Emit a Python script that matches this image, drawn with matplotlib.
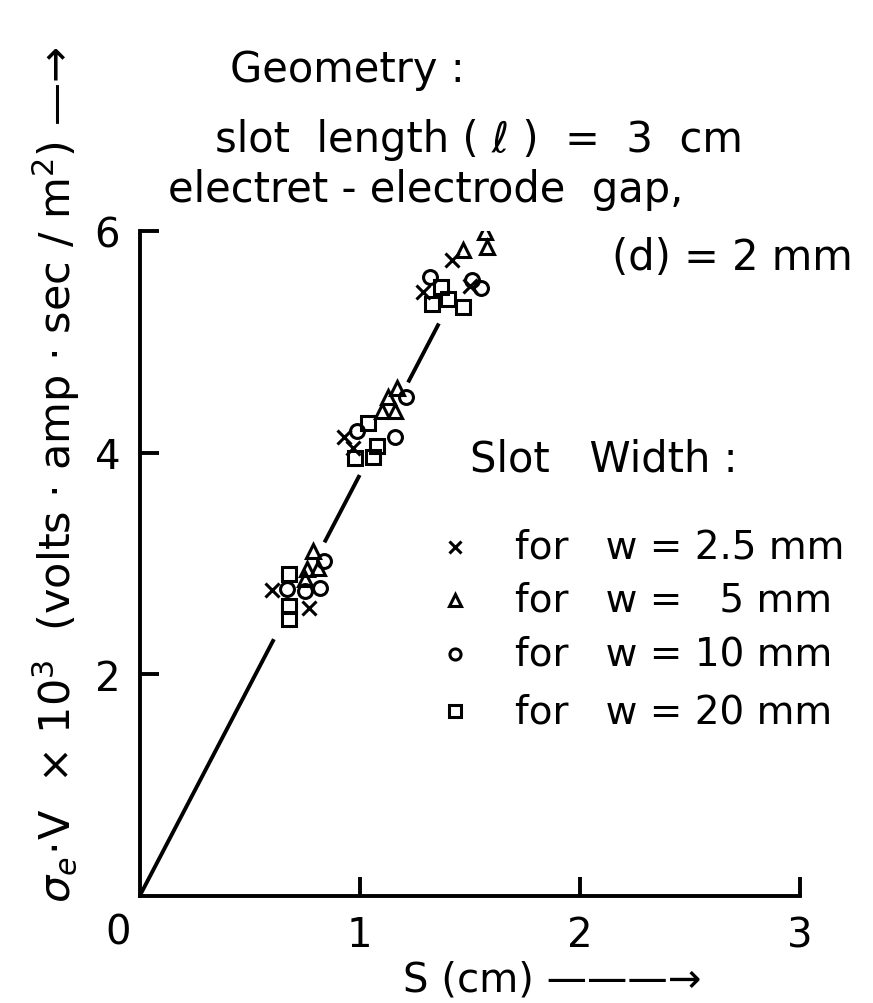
import matplotlib.pyplot as plt

plt.rcParams['font.family'] = ['DejaVu Sans']

# data points, S (cm) vs sigma_e*V x 10^3
w25_x = [0.60, 0.77, 0.93, 0.97, 1.29, 1.42, 1.50]
w25_y = [2.76, 2.60, 4.14, 4.04, 5.45, 5.74, 5.51]
w5_x = [0.75, 0.76, 0.79, 0.81, 1.10, 1.13, 1.16, 1.17, 1.47, 1.57, 1.58]
w5_y = [2.86, 2.95, 3.11, 2.96, 4.38, 4.50, 4.38, 4.59, 5.83, 5.99, 5.86]
w10_x = [0.67, 0.75, 0.82, 0.84, 0.99, 1.16, 1.21, 1.32, 1.51, 1.55]
w10_y = [2.77, 2.75, 2.78, 3.02, 4.20, 4.14, 4.50, 5.59, 5.56, 5.49]
w20_x = [0.68, 0.68, 0.68, 0.98, 1.04, 1.06, 1.08, 1.33, 1.37, 1.40, 1.47]
w20_y = [2.91, 2.62, 2.50, 3.95, 4.27, 3.96, 4.06, 5.34, 5.50, 5.39, 5.32]

# fitted straight line through origin, drawn in pieces between clusters
slope = 3.8
line_pieces = [(0.0, 0.61), (0.84, 1.00), (1.22, 1.36), (1.58, 1.63)]

labels = ['for   w = 2.5 mm', 'for   w =   5 mm', 'for   w = 10 mm', 'for   w = 20 mm']

fig = plt.figure(figsize=(8.73, 10.04), dpi=100)
ax = fig.add_axes([0.160, 0.1066, 0.756, 0.662])

for a, b in line_pieces:
    ax.plot([a, b], [slope * a, slope * b], color='black', lw=2.8, solid_capstyle='butt')

ms = 10
mew = 2.2
ax.plot(w25_x, w25_y, 'x', color='black', ms=ms, mew=mew)
ax.plot(w5_x, w5_y, '^', mfc='none', mec='black', ms=ms, mew=mew)
ax.plot(w10_x, w10_y, 'o', mfc='none', mec='black', ms=ms, mew=mew)
ax.plot(w20_x, w20_y, 's', mfc='none', mec='black', ms=ms, mew=mew)

ax.set_xlim(0, 3)
ax.set_ylim(0, 6)
ax.spines['top'].set_visible(False)
ax.spines['right'].set_visible(False)
ax.spines['left'].set_linewidth(2.8)
ax.spines['bottom'].set_linewidth(2.8)
ax.set_xticks([1, 2, 3])
ax.set_yticks([2, 4, 6])
ax.tick_params(direction='in', length=14, width=2.8, labelsize=29, pad=14)
ax.text(-0.1, -0.15, '0', fontsize=29, ha='center', va='top')

ax.set_xlabel('S (cm) ———→', fontsize=29, labelpad=12)
ax.xaxis.set_label_coords(0.625, -0.095)
ax.set_ylabel(r"$\sigma_e\!\cdot\!$V  $\times$ 10$^3$  (volts · amp · sec / m$^2$) —→",
              fontsize=31, labelpad=14)
ax.yaxis.set_label_coords(-0.088, 0.635)

# annotation block
fs = 30
fig.text(230 / 873, 1 - 70 / 1004, 'Geometry :', fontsize=fs, va='center', ha='left')
fig.text(215 / 873, 1 - 140 / 1004, 'slot  length ( ℓ )  =  3  cm', fontsize=fs, va='center', ha='left')
fig.text(168 / 873, 1 - 190 / 1004, 'electret - electrode  gap,', fontsize=fs, va='center', ha='left')
fig.text(612 / 873, 1 - 258 / 1004, '(d) = 2 mm', fontsize=fs, va='center', ha='left')
fig.text(470 / 873, 1 - 460 / 1004, 'Slot   Width :', fontsize=fs, va='center', ha='left')

# hand-made legend
leg_y = [548, 601, 655, 712]
leg_m = ['x', '^', 'o', 's']
for yy, m, lab in zip(leg_y, leg_m, labels):
    fy = 1 - yy / 1004
    ax.plot([455 / 873], [fy], m, transform=fig.transFigure, clip_on=False,
            mfc='none', mec='black', color='black', ms=8, mew=2.2)
    fig.text(515 / 873, fy, lab, fontsize=28, va='center', ha='left')

fig.savefig('out.png', dpi=100)
